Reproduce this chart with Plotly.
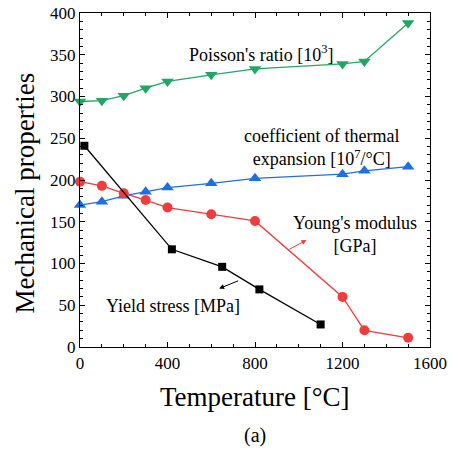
import plotly.graph_objects as go

# Data
poisson_T = [0, 100, 200, 300, 400, 600, 800, 1200, 1300, 1500]
poisson_v = [294, 295, 301, 310, 318, 326, 333, 339, 342, 388]

cte_T = [0, 100, 200, 300, 400, 600, 800, 1200, 1300, 1500]
cte_v = [170, 174, 181, 186, 191, 196, 202, 207, 211, 216]

young_T = [0, 100, 200, 300, 400, 600, 800, 1200, 1300, 1500]
young_v = [198, 193, 184, 176, 167, 159, 151, 60, 20, 11]

yield_T = [20, 420, 650, 820, 1100]
yield_v = [241, 117, 96, 69, 27]

x_ticks = [0, 400, 800, 1200, 1600]
y_ticks = [0, 50, 100, 150, 200, 250, 300, 350, 400]

FONT = "Liberation Serif"
GREEN = "#23a566"
BLUE = "#1f6fe3"
RED = "#f03c3c"
BLACK = "#000000"


def f(size):
    return dict(family=FONT, size=size, color="black")


fig = go.Figure()
fig.add_trace(go.Scatter(x=poisson_T, y=poisson_v, mode="lines+markers",
                         line=dict(color=GREEN, width=1.3),
                         marker=dict(symbol="triangle-down", size=11, color=GREEN),
                         cliponaxis=False, showlegend=False))
fig.add_trace(go.Scatter(x=cte_T, y=cte_v, mode="lines+markers",
                         line=dict(color=BLUE, width=1.3),
                         marker=dict(symbol="triangle-up", size=11, color=BLUE),
                         cliponaxis=False, showlegend=False))
fig.add_trace(go.Scatter(x=young_T, y=young_v, mode="lines+markers",
                         line=dict(color=RED, width=1.3),
                         marker=dict(symbol="circle", size=10, color=RED),
                         cliponaxis=False, showlegend=False))
fig.add_trace(go.Scatter(x=yield_T, y=yield_v, mode="lines+markers",
                         line=dict(color=BLACK, width=1.3),
                         marker=dict(symbol="square", size=8, color=BLACK),
                         cliponaxis=False, showlegend=False))

annotations = [
    dict(x=828, y=351, text="Poisson's ratio [10<sup>3</sup>]", showarrow=False, font=f(18)),
    dict(x=1107, y=239, text="coefficient of thermal<br>expansion [10<sup>7</sup>/°C]",
         showarrow=False, font=f(18)),
    dict(x=1255, y=135, text="Young's modulus<br>[GPa]", showarrow=False, font=f(18)),
    dict(x=424, y=49, text="Yield stress [MPa]", showarrow=False, font=f(18)),
    # arrows
    dict(x=1035, y=128, ax=950, ay=116, axref="x", ayref="y", text="",
         showarrow=True, arrowhead=2, arrowsize=1, arrowwidth=1, arrowcolor=RED),
    dict(x=636, y=70, ax=730, ay=80, axref="x", ayref="y", text="",
         showarrow=True, arrowhead=2, arrowsize=1, arrowwidth=1, arrowcolor=BLACK),
    # axis titles
    dict(xref="paper", yref="paper", x=0.5, y=-0.15, xanchor="center", yanchor="middle",
         text="Temperature [°C]", showarrow=False, font=f(27)),
    dict(xref="paper", yref="paper", x=0.5, y=-0.265, xanchor="center", yanchor="middle",
         text="(a)", showarrow=False, font=f(20)),
    dict(xref="paper", yref="paper", x=-0.157, y=0.46, xanchor="center", yanchor="middle",
         textangle=-90, text="Mechanical properties", showarrow=False, font=f(27)),
]

axis_common = dict(showgrid=False, zeroline=False, showline=True, linecolor="black",
                   linewidth=1.4, mirror="allticks", ticks="inside", ticklen=5,
                   tickwidth=1.2, tickcolor="black", automargin=False,
                   tickfont=f(17))

fig.update_layout(
    width=456, height=452,
    margin=dict(l=80, r=26, t=13, b=105),
    plot_bgcolor="white", paper_bgcolor="white",
    xaxis=dict(range=[0, 1600], tickvals=x_ticks, ticktext=[str(v) for v in x_ticks],
               minor=dict(dtick=100, tick0=0, ticks="inside", ticklen=3,
                          tickwidth=1, tickcolor="black"),
               **axis_common),
    yaxis=dict(range=[0, 400], tickvals=y_ticks, ticktext=[str(v) for v in y_ticks],
               minor=dict(dtick=10, tick0=0, ticks="inside", ticklen=3,
                          tickwidth=1, tickcolor="black"),
               **axis_common),
    annotations=annotations,
)

fig.write_html("out.html")
